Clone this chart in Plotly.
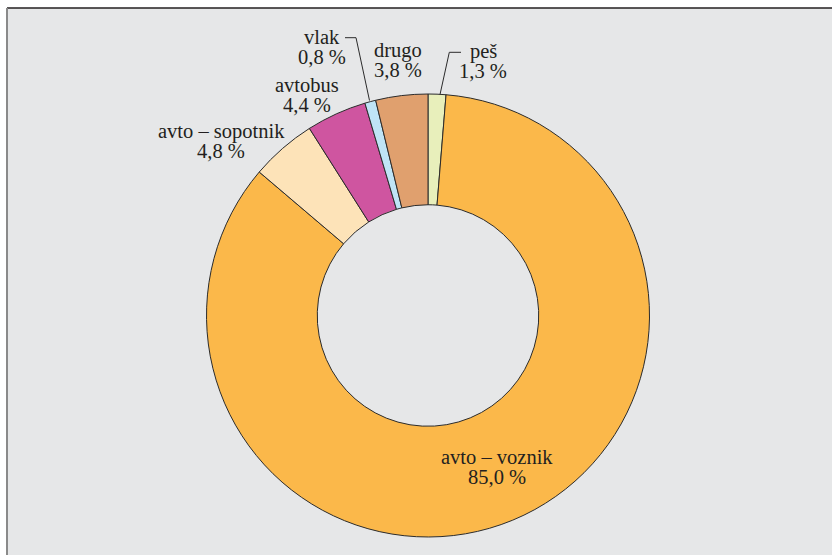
import plotly.graph_objects as go

# Modal split of trips (share of all trips, %)
modes = ["peš", "avto – voznik", "avto – sopotnik", "avtobus", "vlak", "drugo"]
shares = [1.3, 85.0, 4.8, 4.4, 0.8, 3.8]
colors = ["#e8efbb", "#fbb84a", "#fde3b8", "#cf55a0", "#bfe4f6", "#e0a06e"]

W, H = 832, 555
FONT = "Liberation Serif, Times New Roman, Tinos, DejaVu Serif, serif"
FS = 20.5
INK = "#231f20"


def px(x):
    return x / W


def py(y):
    return 1 - y / H


# label placement: centre x and baseline of the first line, in pixels
label_pos = {
    "peš": (483, 58),
    "avto – voznik": (497, 464),
    "avto – sopotnik": (221, 138),
    "avtobus": (306.5, 92),
    "vlak": (322, 44),
    "drugo": (398, 57.5),
}
LINE_GAP = 19.5
BASE_TO_MID = 6.9

fig = go.Figure(
    go.Pie(
        labels=modes,
        values=shares,
        sort=False,
        direction="clockwise",
        rotation=0,
        hole=0.5,
        marker=dict(colors=colors, line=dict(color="#2b2b2b", width=1)),
        textinfo="none",
        hoverinfo="label+value",
        showlegend=False,
        domain=dict(x=[px(206.5), px(649.5)], y=[py(537), py(94)]),
    )
)

annotations = []
for name, val in zip(modes, shares):
    cx, base = label_pos[name]
    pct = f"{val:.1f} %".replace(".", ",")
    for i, line in enumerate([name, pct]):
        annotations.append(
            dict(
                text=line,
                x=px(cx),
                y=py(base + i * LINE_GAP - BASE_TO_MID),
                xref="paper",
                yref="paper",
                xanchor="center",
                yanchor="middle",
                showarrow=False,
                font=dict(family=FONT, size=FS, color=INK),
            )
        )


def path(points):
    return "M " + " L ".join(f"{px(x)},{py(y)}" for x, y in points)


shapes = [
    # panel background
    dict(type="rect", xref="paper", yref="paper", x0=px(7), x1=1, y0=0, y1=py(8),
         fillcolor="#e6e7e8", line=dict(width=0), layer="below"),
    # frame lines
    dict(type="line", xref="paper", yref="paper", x0=px(7), x1=1, y0=py(8), y1=py(8),
         line=dict(color="#231f20", width=1.5)),
    dict(type="line", xref="paper", yref="paper", x0=px(7), x1=px(7), y0=0, y1=py(8),
         line=dict(color="#8a8a8a", width=2)),
    # leader lines for the narrow slices
    dict(type="path", xref="paper", yref="paper",
         path=path([(345, 37.7), (356, 37.7), (369.5, 100.5)]),
         line=dict(color="#2b2b2b", width=1)),
    dict(type="path", xref="paper", yref="paper",
         path=path([(461, 52.3), (449.3, 52.3), (440, 94.5)]),
         line=dict(color="#2b2b2b", width=1)),
]

fig.update_layout(
    width=W,
    height=H,
    margin=dict(l=0, r=0, t=0, b=0),
    paper_bgcolor="white",
    plot_bgcolor="white",
    font=dict(family=FONT),
    annotations=annotations,
    shapes=shapes,
)

fig.write_html("out.html", config={"displayModeBar": False})
